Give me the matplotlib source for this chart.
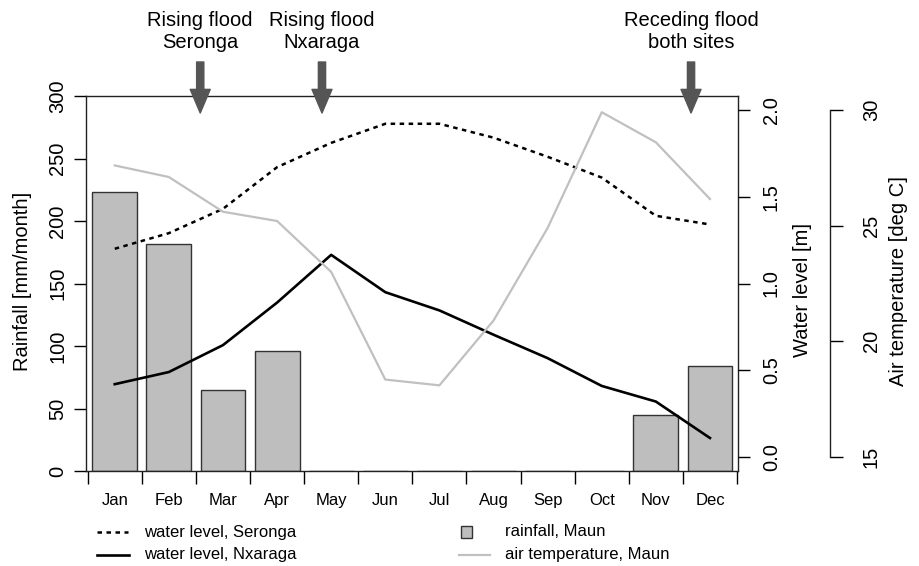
import matplotlib
matplotlib.use('Agg')
import matplotlib.pyplot as plt
from matplotlib.lines import Line2D
from matplotlib.patches import Rectangle

plt.rcParams['font.family'] = ['Liberation Sans', 'DejaVu Sans']

months = ['Jan', 'Feb', 'Mar', 'Apr', 'May', 'Jun', 'Jul', 'Aug', 'Sep', 'Oct', 'Nov', 'Dec']
rainfall = [223, 182, 65, 96, 0, 0, 0, 0, 0, 0, 45, 84]
level_seronga = [1.20, 1.29, 1.43, 1.67, 1.81, 1.92, 1.92, 1.84, 1.73, 1.61, 1.39, 1.34]
level_nxaraga = [0.42, 0.49, 0.645, 0.89, 1.165, 0.95, 0.845, 0.705, 0.57, 0.41, 0.32, 0.11]
air_temp = [27.6, 27.1, 25.6, 25.2, 23.0, 18.35, 18.1, 20.9, 24.9, 29.9, 28.6, 26.15]

# flood events: x position (month units) and text
event_x = [2.08, 4.33, 11.15]
event_text = ['Rising flood\nSeronga', 'Rising flood\nNxaraga', 'Receding flood\nboth sites']

W, H = 919, 566
def fx(px):
    return px / W
def fy(py):
    return 1 - py / H

fig = plt.figure(figsize=(9.19, 5.66), dpi=100)
ax = fig.add_axes([fx(86), fy(471), 652 / W, 375 / H])

centers = [i + 0.5 for i in range(len(months))]
ax.bar(centers, rainfall, width=0.83, color='#bebebe', edgecolor='#333333', linewidth=1.0, zorder=2)
ax.set_xlim(-0.031, 12.018)
ax.set_ylim(0, 300)
ax.set_yticks(range(0, 301, 50))
ax.tick_params(axis='y', length=8.6, width=1, pad=5, labelsize=14.5)
for lab in ax.get_yticklabels():
    lab.set_rotation(90)
    lab.set_va('center')

ax.set_xticks(range(13))
ax.set_xticklabels([])
ax.set_xticks(centers, minor=True)
ax.set_xticklabels(months, minor=True)
ax.tick_params(axis='x', which='major', length=9.4, width=1)
ax.tick_params(axis='x', which='minor', length=0, pad=16, labelsize=12)
for s in ax.spines.values():
    s.set_linewidth(1.0)
    s.set_color('#222222')

# water level axis
ax2 = ax.twinx()
ax2.plot(centers, level_seronga, color='black', lw=1.8, linestyle=(0, (1.8, 1.8)))
ax2.plot(centers, level_nxaraga, color='black', lw=1.9)
ax2.set_ylim(-0.08, 2.08)
ax2.set_yticks([0, 0.5, 1.0, 1.5, 2.0])
ax2.set_yticklabels(['0.0', '0.5', '1.0', '1.5', '2.0'])
ax2.tick_params(axis='y', length=8.6, width=1, pad=8.5, labelsize=14.5)
for lab in ax2.get_yticklabels():
    lab.set_rotation(90)
    lab.set_va('center')
for s in ax2.spines.values():
    s.set_visible(False)

# air temperature axis
ax3 = ax.twinx()
for s in ax3.spines.values():
    s.set_visible(False)
ax3.spines['right'].set_visible(True)
ax3.spines['right'].set_position(('axes', (830 - 86) / 652))
ax3.spines['right'].set_linewidth(1.0)
ax3.spines['right'].set_color('#222222')
ax3.plot(centers, air_temp, color='#c0c0c0', lw=1.6)
ax3.set_ylim(14.4, 30.6)
ax3.spines['right'].set_bounds(15, 30)
ax3.set_yticks([15, 20, 25, 30])
ax3.tick_params(axis='y', length=9.4, width=1, pad=13.5, labelsize=14.5)
for lab in ax3.get_yticklabels():
    lab.set_rotation(90)
    lab.set_va('center')

# axis titles
fig.text(fx(23), fy(281), 'Rainfall [mm/month]', rotation=90, ha='center', va='center', fontsize=14.5)
fig.text(fx(802), fy(290), 'Water level [m]', rotation=90, ha='center', va='center', fontsize=14.5)
fig.text(fx(898), fy(281), 'Air temperature [deg C]', rotation=90, ha='center', va='center', fontsize=14.5)

# flood event arrows and labels
for x, txt in zip(event_x, event_text):
    ax.annotate('', xy=(x, H - 113), xytext=(x, H - 62),
                xycoords=('data', 'figure pixels'), textcoords=('data', 'figure pixels'),
                arrowprops=dict(arrowstyle='simple,head_length=0.85,head_width=0.72,tail_width=0.26',
                                mutation_scale=20, color='#555555', shrinkA=0, shrinkB=0),
                annotation_clip=False)
    ax.annotate(txt, xy=(x, H - 31), xycoords=('data', 'figure pixels'),
                ha='center', va='center', fontsize=14.5, linespacing=1.2,
                annotation_clip=False)

# legend
fig.add_artist(Line2D([fx(97), fx(128)], [fy(532), fy(532)], color='black', lw=1.8,
                      linestyle=(0, (1.8, 1.8))))
fig.add_artist(Line2D([fx(97), fx(129)], [fy(555), fy(555)], color='black', lw=1.9))
fig.add_artist(Rectangle((fx(461), fy(538)), 11 / W, 12 / H, facecolor='#bebebe',
                         edgecolor='#333333', lw=1.0, transform=fig.transFigure))
fig.add_artist(Line2D([fx(459), fx(490)], [fy(555), fy(555)], color='#c0c0c0', lw=1.6))
fig.text(fx(144), fy(532), 'water level, Seronga', va='center', fontsize=12)
fig.text(fx(144), fy(555), 'water level, Nxaraga', va='center', fontsize=12)
fig.text(fx(505), fy(532), 'rainfall, Maun', va='center', fontsize=12)
fig.text(fx(505), fy(555), 'air temperature, Maun', va='center', fontsize=12)

fig.savefig('out.png', dpi=100)
